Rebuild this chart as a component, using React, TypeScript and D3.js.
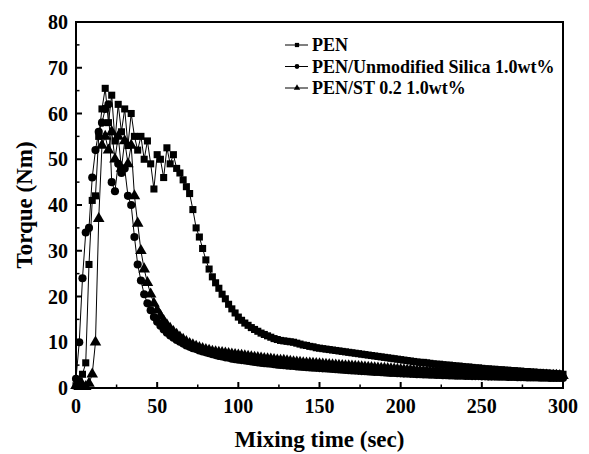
import React from 'react';
import * as d3 from 'd3';

// sampling grid (sec), one reading every 2 s
const times = d3.range(0, 301, 2);

const penValues = [
  0.5, 1.5, 3, 5.5, 27, 41, 42, 55, 61, 65.5,
  58, 64, 54, 62, 56, 61, 53, 60, 55, 52,
  55, 50, 54, 49, 43.5, 51, 50, 46, 52.5, 49,
  51, 48, 47, 45.5, 44, 42.5, 39, 35, 33, 30.5,
  28, 26, 24.3, 23, 21.8, 20.5, 19.5, 18.3, 17.3, 16.4,
  15.5, 14.8, 14.2, 13.7, 13.2, 12.8, 12.4, 12, 11.7, 11.4,
  11.1, 10.8, 10.6, 10.4, 10.3, 10.2, 10.1, 10, 9.8, 9.6,
  9.4, 9.3, 9.1, 9, 8.8, 8.7, 8.6, 8.5, 8.4, 8.3,
  8.2, 8.1, 8, 7.9, 7.8, 7.7, 7.6, 7.5, 7.4, 7.3,
  7.2, 7.1, 7, 6.9, 6.8, 6.7, 6.6, 6.5, 6.4, 6.3,
  6.2, 6.1, 6, 5.9, 5.8, 5.7, 5.6, 5.6, 5.5, 5.4,
  5.3, 5.2, 5.2, 5.1, 5, 5, 4.9, 4.8, 4.8, 4.7,
  4.6, 4.6, 4.5, 4.4, 4.4, 4.3, 4.2, 4.2, 4.1, 4.1,
  4, 4, 3.9, 3.9, 3.8, 3.8, 3.7, 3.7, 3.6, 3.6,
  3.5, 3.5, 3.4, 3.4, 3.3, 3.3, 3.2, 3.2, 3.1, 3.1,
  3.0,
];

const silicaValues = [
  2, 10, 24, 34, 35, 46, 52, 56, 58, 61,
  62, 45, 43, 49, 47, 48, 42, 40, 33, 27,
  23.5, 20.5, 18.5, 17, 15.5, 14.5, 13.6, 12.8, 12.1, 11.5,
  11, 10.5, 10.1, 9.7, 9.3, 9, 8.7, 8.5, 8.2, 8,
  7.8, 7.6, 7.4, 7.2, 7, 6.9, 6.7, 6.6, 6.4, 6.3,
  6.2, 6.1, 6, 5.9, 5.8, 5.7, 5.6, 5.5, 5.4, 5.35,
  5.3, 5.2, 5.1, 5.05, 5, 4.9, 4.85, 4.8, 4.7, 4.65,
  4.6, 4.55, 4.5, 4.45, 4.4, 4.35, 4.3, 4.25, 4.2, 4.15,
  4.1, 4.05, 4, 3.95, 3.9, 3.85, 3.8, 3.75, 3.7, 3.65,
  3.6, 3.55, 3.5, 3.5, 3.45, 3.4, 3.35, 3.3, 3.3, 3.25,
  3.2, 3.15, 3.15, 3.1, 3.05, 3, 3, 2.95, 2.95, 2.9,
  2.9, 2.85, 2.85, 2.8, 2.8, 2.75, 2.75, 2.7, 2.7, 2.7,
  2.65, 2.65, 2.6, 2.6, 2.6, 2.55, 2.55, 2.5, 2.5, 2.5,
  2.45, 2.45, 2.45, 2.4, 2.4, 2.4, 2.35, 2.35, 2.35, 2.3,
  2.3, 2.3, 2.3, 2.25, 2.25, 2.25, 2.2, 2.2, 2.2, 2.2,
  2.2,
];

const stValues = [
  0.5, 0.3, 0.6, 0.3, 1, 3, 10, 37, 53, 55,
  52, 56, 50, 55, 48, 54, 49, 53, 42, 36,
  30, 26, 23, 20.5, 18.5, 17, 15.8, 14.7, 13.8, 13,
  12.3, 11.7, 11.1, 10.6, 10.1, 9.7, 9.4, 9.1, 8.8, 8.6,
  8.4, 8.2, 8, 7.9, 7.8, 7.7, 7.6, 7.5, 7.4, 7.3,
  7.2, 7.1, 7, 6.9, 6.8, 6.7, 6.6, 6.5, 6.4, 6.35,
  6.3, 6.2, 6.1, 6.05, 6, 5.9, 5.8, 5.7, 5.65, 5.6,
  5.5, 5.45, 5.4, 5.35, 5.3, 5.25, 5.2, 5.15, 5.1, 5.05,
  5, 4.95, 4.9, 4.85, 4.8, 4.75, 4.7, 4.65, 4.6, 4.55,
  4.5, 4.45, 4.4, 4.35, 4.3, 4.25, 4.2, 4.15, 4.1, 4.05,
  4, 3.95, 3.9, 3.9, 3.85, 3.8, 3.75, 3.7, 3.7, 3.65,
  3.6, 3.6, 3.55, 3.5, 3.5, 3.45, 3.4, 3.4, 3.35, 3.35,
  3.3, 3.3, 3.25, 3.25, 3.2, 3.2, 3.15, 3.15, 3.1, 3.1,
  3.05, 3.05, 3, 3, 3, 2.95, 2.95, 2.9, 2.9, 2.9,
  2.85, 2.85, 2.85, 2.8, 2.8, 2.8, 2.75, 2.75, 2.75, 2.7,
  2.7,
];

const seriesLabels = ['PEN', 'PEN/Unmodified Silica 1.0wt%', 'PEN/ST 0.2 1.0wt%'];
const xTicks = [0, 50, 100, 150, 200, 250, 300];
const yTicks = [0, 10, 20, 30, 40, 50, 60, 70, 80];

const W = 589;
const H = 454;
const margin = { top: 22, right: 26, bottom: 66, left: 76 };
const font = '"Liberation Serif", "Times New Roman", serif';

export default function App() {
  const x = d3.scaleLinear().domain([0, 300]).range([margin.left, W - margin.right]);
  const y = d3.scaleLinear().domain([0, 80]).range([H - margin.bottom, margin.top]);

  const line = d3.line<number>()
    .x((_, i) => x(times[i]))
    .y(d => y(d));

  const shapes = [d3.symbolSquare, d3.symbolCircle, d3.symbolTriangle];
  const sizes = [50, 52, 58];
  const allSeries = [penValues, silicaValues, stValues];

  const xMinor = d3.range(25, 300, 50);
  const yMinor = d3.range(5, 80, 10);

  const [x0, x1] = x.range();
  const [y0, y1] = y.range();

  return (
    <svg width={W} height={H} style={{ position: 'absolute', left: 0, top: 0, background: '#fff' }}>
      {/* series */}
      {allSeries.map((vals, s) => {
        const sym = d3.symbol().type(shapes[s]).size(sizes[s])();
        return (
          <g key={s}>
            <path d={line(vals) || ''} fill="none" stroke="#000" strokeWidth={1} />
            {vals.map((v, i) => (
              <path key={i} d={sym || ''} transform={`translate(${x(times[i])},${y(v)})`} fill="#000" />
            ))}
          </g>
        );
      })}

      {/* frame */}
      <rect x={x0} y={y1} width={x1 - x0} height={y0 - y1} fill="none" stroke="#000" strokeWidth={2} />

      {/* bottom ticks (inside) */}
      {xTicks.map(t => (
        <line key={'xt' + t} x1={x(t)} x2={x(t)} y1={y0} y2={y0 - 6} stroke="#000" strokeWidth={2} />
      ))}
      {xMinor.map(t => (
        <line key={'xm' + t} x1={x(t)} x2={x(t)} y1={y0} y2={y0 - 3.5} stroke="#000" strokeWidth={1.5} />
      ))}
      {/* left ticks (inside) */}
      {yTicks.map(t => (
        <line key={'yt' + t} x1={x0} x2={x0 + 6} y1={y(t)} y2={y(t)} stroke="#000" strokeWidth={2} />
      ))}
      {yMinor.map(t => (
        <line key={'ym' + t} x1={x0} x2={x0 + 3.5} y1={y(t)} y2={y(t)} stroke="#000" strokeWidth={1.5} />
      ))}

      {/* tick labels */}
      <g fontFamily={font} fontWeight="bold" fontSize={20} fill="#000">
        {xTicks.map(t => (
          <text key={'xl' + t} x={x(t)} y={y0 + 25} textAnchor="middle">{t}</text>
        ))}
        {yTicks.map(t => (
          <text key={'yl' + t} x={x0 - 8} y={y(t)} dy="0.35em" textAnchor="end">{t}</text>
        ))}
      </g>

      {/* axis titles */}
      <text x={(x0 + x1) / 2} y={447} textAnchor="middle" fontFamily={font} fontWeight="bold" fontSize={23}>
        Mixing time (sec)
      </text>
      <text transform={`translate(32,${(y0 + y1) / 2}) rotate(-90)`} textAnchor="middle" fontFamily={font} fontWeight="bold" fontSize={23}>
        Torque (Nm)
      </text>

      {/* legend */}
      {seriesLabels.map((label, s) => {
        const ly = 45 + s * 21.5;
        const sym = d3.symbol().type(shapes[s]).size(18)();
        return (
          <g key={'lg' + s}>
            <line x1={285} x2={308} y1={ly} y2={ly} stroke="#000" strokeWidth={1} />
            <path d={sym || ''} transform={`translate(297,${ly})`} fill="#000" />
            <text x={312} y={ly} dy="0.35em" fontFamily={font} fontWeight="bold" fontSize={18}>{label}</text>
          </g>
        );
      })}
    </svg>
  );
}
